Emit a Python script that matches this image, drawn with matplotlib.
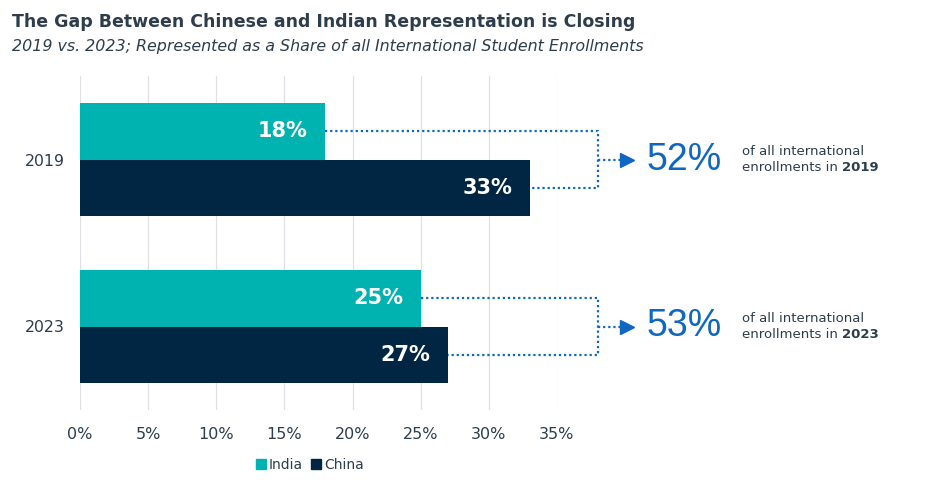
import numpy as np
import matplotlib
matplotlib.use('Agg')
import matplotlib.pyplot as plt
from matplotlib.patches import Patch

years = ['2019', '2023']
india = [18, 25]
china = [33, 27]
combined = [52, 53]
x_ticks = [0, 5, 10, 15, 20, 25, 30, 35]

teal = '#00B2B0'
navy = '#002644'
blue = '#0F67C2'
txt = '#2E3D4C'

plt.rcParams['font.family'] = 'DejaVu Sans'

fig = plt.figure(figsize=(9.36, 4.96), dpi=100)
ax = fig.add_axes([80 / 936, 1 - 410 / 496, 477 / 936, 334 / 496])

pos = np.arange(len(years))
bh = 0.34
ax.barh(pos - bh / 2, india, height=bh, color=teal, label='India', zorder=2)
ax.barh(pos + bh / 2, china, height=bh, color=navy, label='China', zorder=2)

ax.set_xlim(0, 35)
ax.set_ylim(1.5, -0.5)
ax.set_xticks(x_ticks)
ax.set_xticklabels([f'{t}%' for t in x_ticks])
ax.set_yticks(pos)
ax.set_yticklabels(years)
ax.tick_params(axis='x', length=0, pad=12, labelsize=11.5, labelcolor=txt)
ax.tick_params(axis='y', length=0, pad=11, labelsize=11.3, labelcolor=txt)
ax.grid(axis='x', color='#DDE1E6', lw=0.9, zorder=0)
for s in ax.spines.values():
    s.set_visible(False)

# values inside the bars
for i in range(len(years)):
    ax.text(india[i] - 1.3, pos[i] - bh / 2, f'{india[i]}%', color='white',
            fontsize=15, fontweight='bold', ha='right', va='center')
    ax.text(china[i] - 1.3, pos[i] + bh / 2, f'{china[i]}%', color='white',
            fontsize=15, fontweight='bold', ha='right', va='center')

# dotted brackets and the combined share
xb = 38.0
for i in range(len(years)):
    yi = pos[i] - bh / 2
    yc = pos[i] + bh / 2
    ax.plot([india[i], xb, xb, china[i]], [yi, yi, yc, yc], ls=(0, (1, 1.3)),
            color=blue, lw=1.6, clip_on=False)
    ym = pos[i]
    ax.plot([xb, 39.9], [ym, ym], ls=(0, (1, 1.3)), color=blue, lw=1.6,
            clip_on=False)
    ax.plot([40.15], [ym], marker='>', markersize=10, color=blue, clip_on=False)
    ax.text(41.6, ym, f'{combined[i]}%', color=blue, fontsize=27,
            family='Liberation Sans', ha='left', va='center', clip_on=False)
    ax.text(48.6, ym - 0.05, 'of all international', color=txt, fontsize=9.5,
            ha='left', va='center', clip_on=False)
    t = ax.text(48.6, ym + 0.05, 'enrollments in ', color=txt, fontsize=9.5,
                ha='left', va='center', clip_on=False)
    ax.annotate(years[i], xy=(1, 0.5), xycoords=t, color=txt, fontsize=9.5,
                fontweight='bold', ha='left', va='center')

fig.text(12 / 936, 1 - 22 / 496, 'The Gap Between Chinese and Indian Representation is Closing',
         fontsize=12.5, fontweight='bold', color=txt, ha='left', va='center')
fig.text(12 / 936, 1 - 47 / 496, '2019 vs. 2023; Represented as a Share of all International Student Enrollments',
         fontsize=11.4, style='italic', color=txt, ha='left', va='center')

handles = [Patch(color=teal, label='India'), Patch(color=navy, label='China')]
fig.legend(handles=handles, loc='center', bbox_to_anchor=(310 / 936, 1 - 465 / 496),
           ncol=2, frameon=False, fontsize=10, handlelength=0.7, handleheight=0.7,
           handletextpad=0.2, columnspacing=0.6, labelcolor=txt)

fig.savefig('out.png', dpi=100, facecolor='white')
